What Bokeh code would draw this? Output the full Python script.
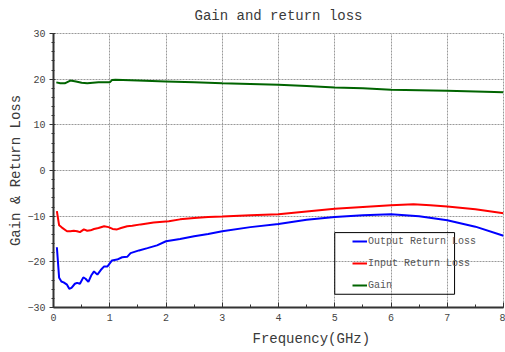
from bokeh.plotting import figure
from bokeh.models import SingleIntervalTicker, BoxAnnotation, Title
from bokeh.embed import file_html
from bokeh.resources import INLINE

# Measured S-parameter curves (frequency in GHz, magnitude in dB)
gain_freq = [0.05, 0.12, 0.2, 0.3, 0.4, 0.5, 0.6, 0.7, 0.8, 0.9, 1.0, 1.04, 1.1,
             1.5, 2.0, 2.5, 3.0, 3.5, 4.0, 4.5, 5.0, 5.5, 6.0, 6.5, 7.0, 7.5, 8.0]
gain_db = [19.3, 19.1, 19.1, 19.7, 19.5, 19.2, 19.1, 19.2, 19.3, 19.3, 19.3, 19.8, 19.85,
           19.7, 19.5, 19.3, 19.1, 18.95, 18.8, 18.5, 18.2, 18.0, 17.7, 17.6, 17.45, 17.3, 17.15]

in_rl_freq = [0.06, 0.1, 0.15, 0.24, 0.3, 0.36, 0.42, 0.47, 0.54, 0.6, 0.66, 0.72, 0.8,
              0.9, 0.98, 1.05, 1.13, 1.2, 1.31, 1.4, 1.55, 1.78, 2.05, 2.25, 2.5, 2.75,
              3.0, 3.5, 4.0, 4.5, 5.0, 5.5, 6.0, 6.4, 6.7, 7.0, 7.5, 8.0]
in_rl_db = [-8.9, -12.0, -12.5, -13.3, -13.3, -13.2, -13.3, -13.5, -12.9, -13.2, -13.1,
            -12.8, -12.6, -12.2, -12.4, -12.8, -12.9, -12.6, -12.2, -12.1, -11.8, -11.4,
            -11.1, -10.7, -10.4, -10.2, -10.1, -9.8, -9.6, -9.0, -8.4, -8.0, -7.6, -7.4,
            -7.6, -7.9, -8.5, -9.35]

out_rl_freq = [0.06, 0.1, 0.14, 0.18, 0.24, 0.28, 0.32, 0.38, 0.42, 0.47, 0.53, 0.57,
               0.62, 0.67, 0.72, 0.78, 0.84, 0.9, 0.96, 1.04, 1.13, 1.22, 1.31, 1.37,
               1.52, 1.67, 1.84, 2.0, 2.25, 2.5, 2.75, 3.0, 3.5, 4.0, 4.5, 5.0, 5.5,
               6.0, 6.5, 7.0, 7.5, 8.0]
out_rl_db = [-16.8, -23.5, -24.3, -24.5, -25.0, -25.9, -25.7, -24.8, -24.6, -24.8, -23.4,
             -23.7, -24.4, -23.0, -22.1, -22.8, -21.8, -21.0, -21.0, -19.7, -19.5, -19.0,
             -18.9, -18.1, -17.5, -17.0, -16.4, -15.5, -15.0, -14.4, -13.9, -13.3, -12.4,
             -11.7, -10.8, -10.2, -9.8, -9.6, -10.0, -10.9, -12.3, -14.3]

FONT = "Liberation Mono"
TEXT = "#444444"

p = figure(width=505, height=352, x_range=(0, 8), y_range=(-30, 30),
           output_backend="svg", toolbar_location=None, title_location=None,
           min_border_left=53, min_border_right=2, min_border_top=33, min_border_bottom=45,
           background_fill_color="white", border_fill_color="white")

# small spacer panel between the frame and the chart title
p.add_layout(Title(text=" ", text_font_size="3px", standoff=0), "above")
p.add_layout(Title(text="Gain and return loss", align="center",
                   text_font=FONT, text_font_size="14px", text_font_style="normal",
                   text_color="#3a3a3a"), "above")

p.outline_line_color = "#999999"
p.outline_line_dash = "2 1"

p.xaxis.ticker = SingleIntervalTicker(interval=1, num_minor_ticks=2)
p.yaxis.ticker = SingleIntervalTicker(interval=10, num_minor_ticks=5)

for ax in (p.xaxis[0], p.yaxis[0]):
    ax.axis_line_width = 2
    ax.axis_line_color = "#333333"
    ax.major_tick_line_color = "#333333"
    ax.minor_tick_line_color = "#333333"
    ax.major_label_text_font = FONT
    ax.major_label_text_font_size = "10px"
    ax.major_label_text_color = TEXT

p.xaxis.major_tick_in = 5
p.xaxis.major_tick_out = 0
p.xaxis.minor_tick_in = 3
p.xaxis.minor_tick_out = 0
p.xaxis.major_label_standoff = 6

p.yaxis.major_tick_in = 2
p.yaxis.major_tick_out = 4
p.yaxis.minor_tick_in = 1
p.yaxis.minor_tick_out = 2
p.yaxis.major_label_standoff = 4
p.yaxis.axis_label = "Gain & Return Loss"
p.yaxis.axis_label_text_font = FONT
p.yaxis.axis_label_text_font_size = "14px"
p.yaxis.axis_label_text_font_style = "normal"
p.yaxis.axis_label_text_color = "#3a3a3a"
p.yaxis.axis_label_standoff = 0

p.add_layout(Title(text="Frequency(GHz)", align="left", offset=199,
                   text_font=FONT, text_font_size="14px", text_font_style="normal",
                   text_color="#3a3a3a"), "below")

p.grid.grid_line_color = "#999999"
p.grid.grid_line_dash = "2 1"
p.grid.grid_line_width = 1

p.line(out_rl_freq, out_rl_db, line_color="#0000ff", line_width=2, legend_label="Output Return Loss")
p.line(in_rl_freq, in_rl_db, line_color="#ff0000", line_width=2, legend_label="Input Return Loss")
p.line(gain_freq, gain_db, line_color="#006400", line_width=2, legend_label="Gain")

# Framed legend area
p.add_layout(BoxAnnotation(left=5.0, right=7.13, top=-13.6, bottom=-27.1,
                           fill_alpha=0, line_color="black", line_width=1, line_alpha=1))

lg = p.legend[0]
lg.location = (299, 11)
lg.margin = 0
lg.padding = 0
lg.spacing = 0
lg.glyph_width = 15
lg.glyph_height = 22
lg.label_height = 22
lg.label_standoff = 1
lg.label_text_font = FONT
lg.label_text_font_size = "10px"
lg.label_text_color = "#555555"
lg.background_fill_alpha = 0
lg.border_line_alpha = 0

open("out.html", "w").write(file_html(p, INLINE))
